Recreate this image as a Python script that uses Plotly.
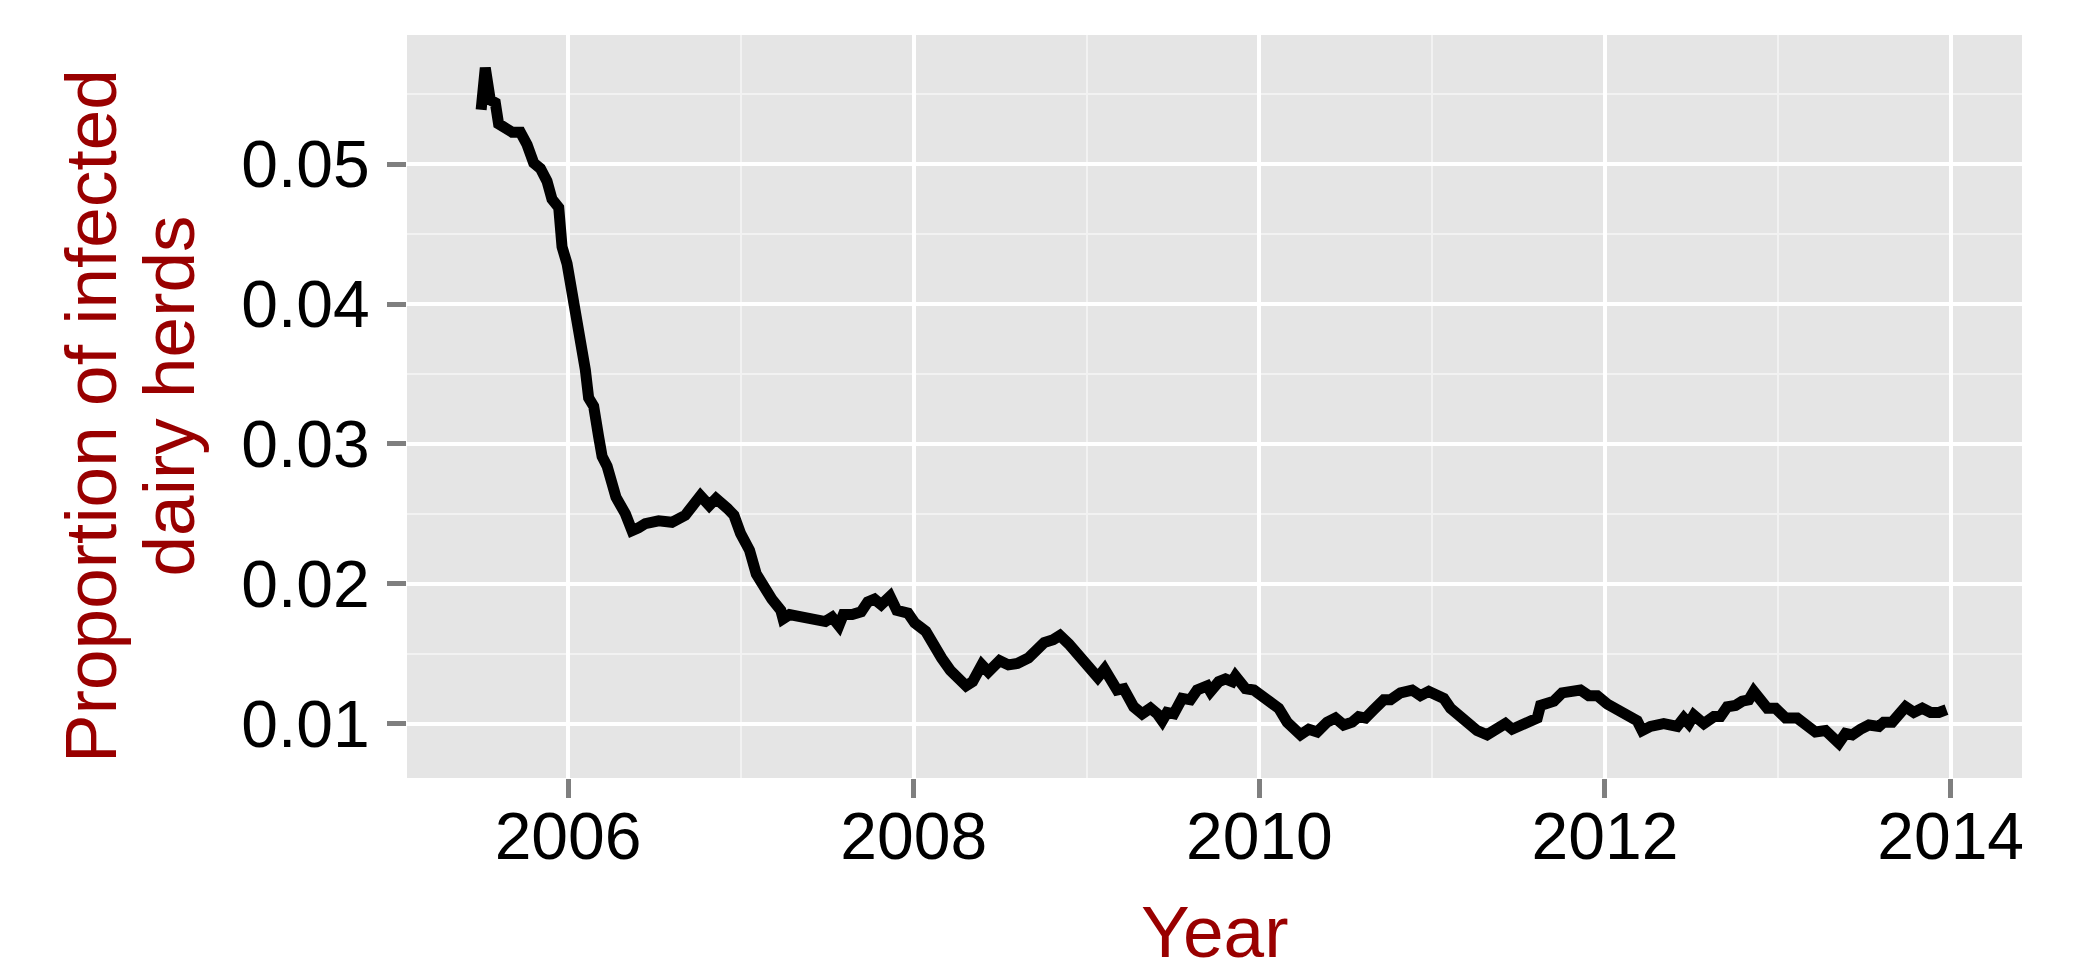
import plotly.graph_objects as go

# Decimal year of each observation
years = [
    2005.497, 2005.521, 2005.550, 2005.579, 2005.598, 2005.637, 2005.676, 2005.724,
    2005.763, 2005.801, 2005.840, 2005.878, 2005.907, 2005.946, 2005.965, 2005.994,
    2006.032, 2006.071, 2006.100, 2006.119, 2006.148, 2006.177, 2006.197, 2006.226,
    2006.277, 2006.332, 2006.370, 2006.407, 2006.447, 2006.524, 2006.601, 2006.678,
    2006.716, 2006.766, 2006.817, 2006.856, 2006.921, 2006.960, 2006.998, 2007.050,
    2007.089, 2007.127, 2007.179, 2007.231, 2007.244, 2007.282, 2007.360, 2007.438,
    2007.489, 2007.528, 2007.567, 2007.593, 2007.644, 2007.696, 2007.734, 2007.773,
    2007.812, 2007.863, 2007.902, 2007.967, 2008.006, 2008.070, 2008.109, 2008.161,
    2008.212, 2008.251, 2008.303, 2008.341, 2008.394, 2008.432, 2008.497, 2008.548,
    2008.600, 2008.664, 2008.703, 2008.755, 2008.807, 2008.846, 2008.897, 2008.962,
    2009.026, 2009.065, 2009.104, 2009.119, 2009.177, 2009.215, 2009.273, 2009.322,
    2009.370, 2009.409, 2009.438, 2009.466, 2009.505, 2009.553, 2009.601, 2009.640,
    2009.698, 2009.717, 2009.765, 2009.804, 2009.843, 2009.862, 2009.920, 2009.968,
    2010.006, 2010.064, 2010.112, 2010.161, 2010.199, 2010.238, 2010.286, 2010.335,
    2010.392, 2010.440, 2010.488, 2010.537, 2010.575, 2010.614, 2010.662, 2010.720,
    2010.759, 2010.817, 2010.884, 2010.932, 2010.980, 2011.029, 2011.067, 2011.106,
    2011.164, 2011.212, 2011.260, 2011.318, 2011.366, 2011.424, 2011.463, 2011.511,
    2011.559, 2011.608, 2011.627, 2011.666, 2011.704, 2011.752, 2011.800, 2011.858,
    2011.906, 2011.955, 2012.013, 2012.071, 2012.128, 2012.186, 2012.215, 2012.263,
    2012.340, 2012.389, 2012.418, 2012.456, 2012.485, 2012.514, 2012.572, 2012.630,
    2012.668, 2012.707, 2012.755, 2012.794, 2012.832, 2012.861, 2012.900, 2012.939,
    2012.987, 2013.045, 2013.112, 2013.170, 2013.218, 2013.276, 2013.315, 2013.353,
    2013.392, 2013.431, 2013.479, 2013.527, 2013.585, 2013.613, 2013.662, 2013.700,
    2013.739, 2013.787, 2013.836, 2013.884, 2013.932, 2013.976,
]

# Proportion of infected dairy herds
proportion = [
    0.0539, 0.0569, 0.0546, 0.0544, 0.0529, 0.0526, 0.0523, 0.0523,
    0.0514, 0.0501, 0.0497, 0.0488, 0.0475, 0.0469, 0.0441, 0.0429,
    0.0405, 0.0377, 0.0353, 0.0333, 0.0327, 0.0305, 0.0291, 0.0284,
    0.0262, 0.0250, 0.0238, 0.0240, 0.0243, 0.0245, 0.0244, 0.0249,
    0.0255, 0.0263, 0.0256, 0.0261, 0.0254, 0.0249, 0.0236, 0.0224,
    0.0207, 0.0198, 0.0189, 0.0181, 0.0175, 0.0178, 0.0176, 0.0176,
    0.0173, 0.0176, 0.0170, 0.0178, 0.0178, 0.0180, 0.0187, 0.0189,
    0.0185, 0.0191, 0.0181, 0.0179, 0.0172, 0.0166, 0.0157, 0.0147,
    0.0138, 0.0133, 0.0127, 0.0130, 0.0142, 0.0137, 0.0145, 0.0142,
    0.0143, 0.0147, 0.0152, 0.0158, 0.0160, 0.0163, 0.0157, 0.0148,
    0.0141, 0.0133, 0.0139, 0.0136, 0.0124, 0.0125, 0.0112, 0.0107,
    0.0111, 0.0107, 0.0102, 0.0108, 0.0107, 0.0118, 0.0117, 0.0124,
    0.0127, 0.0123, 0.0130, 0.0132, 0.0130, 0.0134, 0.0125, 0.0124,
    0.0120, 0.0116, 0.0111, 0.0101, 0.0095, 0.0092, 0.0096, 0.0094,
    0.0101, 0.0104, 0.0099, 0.0101, 0.0105, 0.0104, 0.0110, 0.0117,
    0.0117, 0.0122, 0.0124, 0.0120, 0.0123, 0.0119, 0.0118, 0.0111,
    0.0105, 0.0099, 0.0095, 0.0092, 0.0096, 0.0100, 0.0096, 0.0099,
    0.0101, 0.0104, 0.0113, 0.0114, 0.0116, 0.0122, 0.0123, 0.0124,
    0.0120, 0.0120, 0.0114, 0.0110, 0.0105, 0.0102, 0.0095, 0.0098,
    0.0100, 0.0098, 0.0098, 0.0104, 0.0100, 0.0106, 0.0100, 0.0105,
    0.0105, 0.0112, 0.0113, 0.0116, 0.0117, 0.0123, 0.0118, 0.0111,
    0.0111, 0.0104, 0.0104, 0.0099, 0.0094, 0.0095, 0.0090, 0.0086,
    0.0093, 0.0092, 0.0096, 0.0099, 0.0098, 0.0101, 0.0101, 0.0106,
    0.0112, 0.0108, 0.0111, 0.0108, 0.0108, 0.0110,
]

x_tick_vals = [2006, 2008, 2010, 2012, 2014]
x_tick_text = ["2006", "2008", "2010", "2012", "2014"]
x_minor_vals = [2007, 2009, 2011, 2013]
y_tick_vals = [0.01, 0.02, 0.03, 0.04, 0.05]
y_tick_text = ["0.01", "0.02", "0.03", "0.04", "0.05"]
y_minor_vals = [0.015, 0.025, 0.035, 0.045, 0.055]

title_red = "#990000"
font_family = "Liberation Sans, Arial, sans-serif"

fig = go.Figure()
fig.add_trace(go.Scatter(
    x=years, y=proportion, mode="lines",
    line=dict(color="black", width=11),
    showlegend=False, hoverinfo="skip",
))

axis_common = dict(
    showline=False, zeroline=False,
    ticks="outside", ticklen=19, tickwidth=4.5, tickcolor="#7f7f7f",
    showgrid=True, gridcolor="white", gridwidth=4.3,
    tickfont=dict(family=font_family, size=66, color="black"),
)

fig.update_layout(
    width=2085, height=964,
    margin=dict(l=407, r=63, t=35, b=186, pad=0),
    paper_bgcolor="white", plot_bgcolor="#e5e5e5",
    xaxis=dict(
        range=[2005.068, 2014.413],
        tickmode="array", tickvals=x_tick_vals, ticktext=x_tick_text,
        minor=dict(tickmode="array", tickvals=x_minor_vals, showgrid=True,
                   gridcolor="#f2f2f2", gridwidth=2.2, ticks=""),
        ticklabelstandoff=-18,
        **axis_common,
    ),
    yaxis=dict(
        range=[0.00611, 0.05925],
        tickmode="array", tickvals=y_tick_vals, ticktext=y_tick_text,
        minor=dict(tickmode="array", tickvals=y_minor_vals, showgrid=True,
                   gridcolor="#f2f2f2", gridwidth=2.2, ticks=""),
        ticklabelstandoff=4,
        **axis_common,
    ),
    annotations=[
        dict(text="Proportion of infected", xref="paper", yref="paper",
             x=(90 - 407) / 1615, y=(778 - 416) / 743, textangle=-90,
             xanchor="center", yanchor="middle", showarrow=False,
             font=dict(family=font_family, size=73, color=title_red)),
        dict(text="dairy herds", xref="paper", yref="paper",
             x=(168 - 407) / 1615, y=(778 - 396.5) / 743, textangle=-90,
             xanchor="center", yanchor="middle", showarrow=False,
             font=dict(family=font_family, size=73, color=title_red)),
        dict(text="Year", xref="paper", yref="paper",
             x=(1215 - 407) / 1615, y=(778 - 932) / 743,
             xanchor="center", yanchor="middle", showarrow=False,
             font=dict(family=font_family, size=73, color=title_red)),
    ],
)

fig.write_html(
    "out.html",
    config={"displayModeBar": False},
    post_script="document.body.style.margin='0';document.body.style.overflow='hidden';",
)
